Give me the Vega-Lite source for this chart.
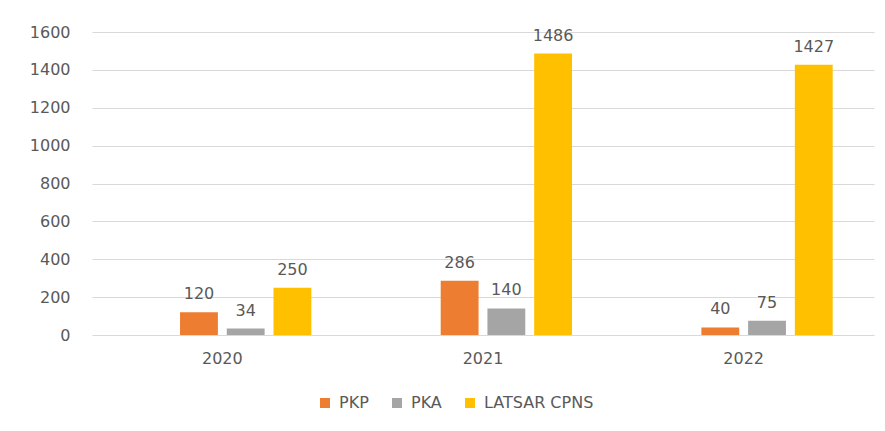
{
  "$schema": "https://vega.github.io/schema/vega-lite/v6.json",
  "width": 782,
  "height": 303,
  "autosize": {"type": "none"},
  "padding": {"left": 92, "top": 32, "right": 11, "bottom": 96},
  "background": "white",
  "config": {"view": {"stroke": null}, "font": "DejaVu Sans"},
  "data": {
    "values": [
      {"tahun": "2020", "seri": "PKP", "jumlah": 120},
      {"tahun": "2020", "seri": "PKA", "jumlah": 34},
      {"tahun": "2020", "seri": "LATSAR CPNS", "jumlah": 250},
      {"tahun": "2021", "seri": "PKP", "jumlah": 286},
      {"tahun": "2021", "seri": "PKA", "jumlah": 140},
      {"tahun": "2021", "seri": "LATSAR CPNS", "jumlah": 1486},
      {"tahun": "2022", "seri": "PKP", "jumlah": 40},
      {"tahun": "2022", "seri": "PKA", "jumlah": 75},
      {"tahun": "2022", "seri": "LATSAR CPNS", "jumlah": 1427}
    ]
  },
  "encoding": {
    "x": {
      "field": "tahun",
      "type": "nominal",
      "scale": {"domain": ["2020", "2021", "2022"], "paddingInner": 0.317, "paddingOuter": 0.1585},
      "axis": {"title": null, "labelAngle": 0, "ticks": false, "domain": false, "labelPadding": 15, "labelFontSize": 16, "labelColor": "#595959"}
    },
    "xOffset": {
      "field": "seri",
      "type": "nominal",
      "scale": {"domain": ["", "PKP", "PKA", "LATSAR CPNS"], "paddingInner": 0.19, "paddingOuter": 0}
    },
    "y": {
      "field": "jumlah",
      "type": "quantitative",
      "scale": {"domain": [0, 1600]},
      "axis": {"title": null, "values": [0, 200, 400, 600, 800, 1000, 1200, 1400, 1600], "format": "d", "ticks": false, "domain": false, "labelPadding": 22, "labelFontSize": 16, "labelColor": "#595959", "gridColor": "#D9D9D9", "gridWidth": 1}
    }
  },
  "layer": [
    {
      "mark": {"type": "bar"},
      "encoding": {
        "color": {
          "field": "seri",
          "type": "nominal",
          "scale": {"domain": ["PKP", "PKA", "LATSAR CPNS"], "range": ["#ED7D31", "#A5A5A5", "#FFC000"]},
          "legend": {"title": null, "orient": "none", "legendX": 225, "legendY": 363, "direction": "horizontal", "symbolType": "square", "symbolSize": 100, "labelFontSize": 16, "labelColor": "#595959", "columnPadding": 20, "labelOffset": 6, "padding": 0, "symbolStrokeWidth": 0}
        }
      }
    },
    {
      "mark": {"type": "text", "dy": -13, "baseline": "alphabetic", "fontSize": 16, "color": "#595959"},
      "encoding": {"text": {"field": "jumlah", "type": "quantitative", "format": "d"}}
    }
  ]
}
